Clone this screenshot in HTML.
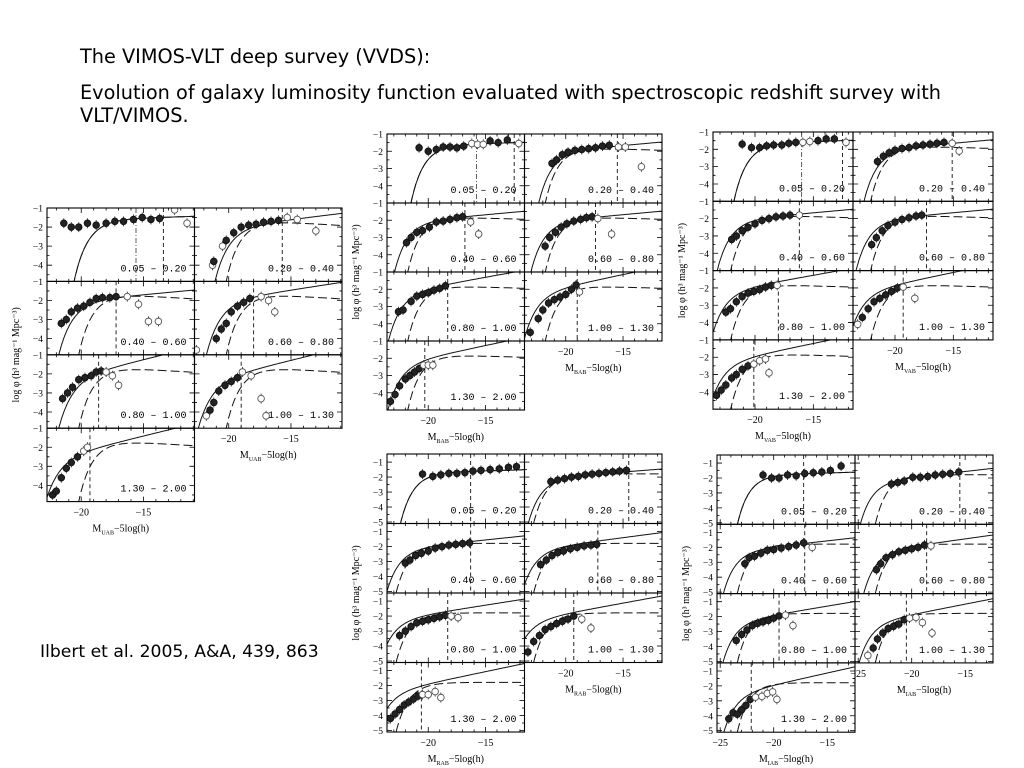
<!DOCTYPE html>
<html><head><meta charset="utf-8">
<style>
html,body{margin:0;padding:0;background:#fff;width:1024px;height:768px;overflow:hidden}
.t{position:absolute;font-family:"DejaVu Sans","Liberation Sans",sans-serif;color:#000;white-space:nowrap}
svg{position:absolute;left:0;top:0}
</style></head>
<body>
<div class="t" style="left:80px;top:45px;font-size:19.3px">The VIMOS-VLT deep survey (VVDS):</div>
<div class="t" style="left:80px;top:81px;font-size:19.3px;line-height:23px">Evolution of galaxy luminosity function evaluated with spectroscopic redshift survey with<br>VLT/VIMOS.</div>
<div class="t" style="left:40px;top:642px;font-size:17.2px">Ilbert et al. 2005, A&amp;A, 439, 863</div>
<svg id="chart" width="1024" height="768"></svg>
<script>
const bins = ["0.05 \u2013 0.20","0.20 \u2013 0.40","0.40 \u2013 0.60","0.60 \u2013 0.80","0.80 \u2013 1.00","1.00 \u2013 1.30","1.30 \u2013 2.00"];

// U band
const uSolid = [[-18.4,-1.55,-1.05],[-19.1,-1.9,-1.2],[-19.8,-1.95,-1.15],[-19.8,-1.9,-1.25],[-19.9,-2.0,-1.4],[-20.6,-2.15,-1.4],[-21.1,-2.35,-1.4]];
const uDashed = [[-18.4,-1.55,-1.05],[-18.0,-1.6,-0.9],[-18.0,-1.6,-0.9],[-18.0,-1.6,-0.9],[-18.0,-1.6,-0.9],[-18.0,-1.6,-0.9],[-18.0,-1.6,-0.9]];
const uVline = [-13.4,-15.7,-17.2,-18.0,-18.6,-19.0,-19.3];
const uPoints = [
 [[-21.4,-1.8,0],[-20.8,-2,0],[-20.2,-2,0],[-19.5,-1.8,0],[-18.8,-1.9,0],[-18,-1.8,0],[-17.3,-1.7,0],[-16.6,-1.7,0],[-15.8,-1.6,0],[-15.1,-1.5,0],[-14.4,-1.6,0],[-13.7,-1.55,0],[-12.5,-1.1,1],[-11.5,-1.8,1]],
 [[-21.3,-4,1],[-21.2,-3.8,0],[-20.5,-3,1],[-20.2,-2.7,0],[-19.6,-2.3,0],[-19,-2,0],[-18.4,-1.9,0],[-17.8,-1.85,0],[-17.2,-1.75,0],[-16.6,-1.7,0],[-16,-1.65,0],[-15.3,-1.5,1],[-14.5,-1.6,1],[-13,-2.2,1]],
 [[-21.6,-3.2,0],[-21.2,-3,0],[-20.8,-2.6,0],[-20.3,-2.4,0],[-19.8,-2.3,0],[-19.3,-2.1,0],[-18.8,-1.9,0],[-18.3,-1.85,0],[-17.7,-1.85,0],[-17.2,-1.8,0],[-16.3,-1.8,1],[-15.4,-2.2,1],[-14.6,-3.1,1],[-13.8,-3.1,1]],
 [[-22.6,-4.6,1],[-21,-4,0],[-20.6,-3.5,0],[-20.2,-3.2,0],[-19.8,-2.6,0],[-19.3,-2.3,0],[-18.8,-2.1,0],[-18.3,-1.9,0],[-17.4,-1.8,1],[-16.8,-2,1],[-16.3,-2.6,1]],
 [[-21.5,-3.3,0],[-21.1,-3,0],[-20.7,-2.7,0],[-20.2,-2.3,0],[-19.7,-2.2,0],[-19.2,-2.1,0],[-18.8,-1.9,0],[-18.4,-1.85,0],[-18,-1.9,1],[-17.5,-2.1,1],[-17,-2.6,1]],
 [[-21.8,-4.2,1],[-21.5,-3.9,0],[-21.2,-3.5,0],[-20.8,-2.9,0],[-20.3,-2.6,0],[-19.8,-2.4,0],[-19.3,-2.2,0],[-18.9,-1.9,1],[-18.2,-2.1,1],[-17.4,-3.3,1],[-17,-4.2,1]],
 [[-22.3,-4.5,0],[-22,-4.3,0],[-21.6,-3.6,0],[-21.2,-3.1,0],[-20.8,-2.8,0],[-20.3,-2.5,0],[-19.8,-2.2,1],[-19.5,-2,1]]
];

// B band
const bSolid = [[-19.3,-1.6,-1.05],[-20.3,-1.95,-1.15],[-20.9,-2.0,-1.15],[-21.0,-2.0,-1.15],[-21.5,-2.05,-1.3],[-21.7,-2.05,-1.35],[-21.6,-2.15,-1.35]];
const bDashed = [[-19.3,-1.6,-1.05],[-19.6,-1.75,-0.95],[-19.6,-1.75,-0.95],[-19.6,-1.75,-0.95],[-19.6,-1.75,-0.95],[-19.6,-1.75,-0.95],[-19.6,-1.75,-0.95]];
const bVline = [-12.5,-15.5,-16.8,-17.4,-18.3,-19.0,-20.3];
const bPoints = [
 [[-20.8,-1.8,0],[-20,-2,0],[-19.3,-1.9,0],[-18.7,-1.75,0],[-18.1,-1.75,0],[-17.5,-1.8,0],[-16.9,-1.7,0],[-16.2,-1.55,1],[-15.7,-1.6,1],[-15.2,-1.6,1],[-14.6,-1.4,0],[-13.9,-1.5,0],[-13.1,-1.35,0],[-12.1,-1.55,1]],
 [[-21.2,-2.7,0],[-20.8,-2.5,0],[-20.3,-2.2,0],[-19.8,-2.05,0],[-19.2,-1.95,0],[-18.6,-1.9,0],[-18,-1.85,0],[-17.4,-1.8,0],[-16.8,-1.7,0],[-16.2,-1.65,0],[-15.4,-1.75,1],[-14.8,-1.75,1],[-13.4,-2.9,1]],
 [[-21.9,-3.3,0],[-21.5,-3,0],[-21,-2.7,0],[-20.5,-2.6,0],[-19.9,-2.4,0],[-19.3,-2.1,0],[-18.7,-2.05,0],[-18.1,-1.95,0],[-17.5,-1.85,0],[-17,-1.8,0],[-16.3,-2.1,1],[-15.6,-2.8,1]],
 [[-21.8,-3.5,0],[-21.4,-3,0],[-20.9,-2.7,0],[-20.4,-2.4,0],[-19.9,-2.2,0],[-19.3,-2.05,0],[-18.7,-1.95,0],[-18.2,-1.85,0],[-17.7,-1.8,0],[-17.2,-1.9,1],[-16,-2.8,1]],
 [[-22.6,-3.3,0],[-22.2,-3.2,0],[-21.5,-2.7,0],[-21,-2.4,0],[-20.5,-2.3,0],[-20,-2.2,0],[-19.5,-2.05,0],[-19,-1.95,0],[-18.5,-1.8,0]],
 [[-23.1,-4.5,0],[-22.4,-3.7,0],[-22,-3.2,0],[-21.5,-2.8,0],[-21,-2.6,0],[-20.5,-2.45,0],[-20,-2.3,0],[-19.5,-2,0],[-19.1,-1.75,0],[-18.8,-2.15,1]],
 [[-23.3,-4.5,0],[-22.9,-4.1,0],[-22.5,-3.6,0],[-22,-3.2,0],[-21.6,-3,0],[-21.2,-2.8,0],[-20.8,-2.6,0],[-20.4,-2.4,1],[-20,-2.4,1],[-19.6,-2.4,1]]
];

// V band
const vSolid = [[-19.6,-1.6,-1.05],[-20.6,-1.95,-1.15],[-21.2,-2.0,-1.15],[-21.3,-2.0,-1.15],[-21.8,-2.05,-1.3],[-22.0,-2.05,-1.35],[-22.0,-2.15,-1.35]];
const vDashed = [[-19.6,-1.6,-1.05],[-19.9,-1.75,-0.95],[-19.9,-1.75,-0.95],[-19.9,-1.75,-0.95],[-19.9,-1.75,-0.95],[-19.9,-1.75,-0.95],[-19.9,-1.75,-0.95]];
const vVline = [-12.5,-15.1,-16.2,-17.3,-18.0,-19.3,-20.1];
const vPoints = [
 [[-21.1,-1.7,0],[-20.3,-1.9,0],[-19.6,-1.9,0],[-19,-1.8,0],[-18.4,-1.75,0],[-17.7,-1.75,0],[-17.1,-1.65,0],[-16.5,-1.6,0],[-15.9,-1.6,1],[-15.3,-1.55,1],[-14.6,-1.5,0],[-13.9,-1.4,0],[-13.2,-1.4,0],[-12.2,-1.6,1]],
 [[-21.5,-2.7,0],[-21,-2.4,0],[-20.5,-2.2,0],[-20,-2.05,0],[-19.4,-1.95,0],[-18.8,-1.9,0],[-18.2,-1.8,0],[-17.6,-1.75,0],[-17,-1.7,0],[-16.4,-1.65,0],[-15.8,-1.6,0],[-15.1,-1.65,1],[-14.5,-2.1,1]],
 [[-22,-3.2,0],[-21.6,-3,0],[-21.1,-2.7,0],[-20.6,-2.5,0],[-20,-2.3,0],[-19.4,-2.1,0],[-18.8,-2,0],[-18.2,-1.9,0],[-17.6,-1.85,0],[-17,-1.8,0],[-16.2,-1.8,1]],
 [[-22,-3.5,0],[-21.6,-3.1,0],[-21.1,-2.7,0],[-20.6,-2.4,0],[-20,-2.2,0],[-19.4,-2.05,0],[-18.8,-1.95,0],[-18.2,-1.85,0],[-17.7,-1.8,0]],
 [[-22.5,-3.4,0],[-22.1,-3.2,0],[-21.6,-2.8,0],[-21.1,-2.5,0],[-20.6,-2.3,0],[-20.1,-2.2,0],[-19.6,-2.1,0],[-19.1,-1.95,0],[-18.6,-1.85,0],[-18.1,-1.85,1]],
 [[-23.2,-4.1,1],[-22.8,-3.7,0],[-22.3,-3.2,0],[-21.8,-2.8,0],[-21.3,-2.6,0],[-20.8,-2.4,0],[-20.3,-2.2,0],[-19.8,-2,0],[-19.3,-1.95,1],[-18.3,-2.6,1]],
 [[-23.3,-4.2,0],[-22.9,-3.9,0],[-22.5,-3.6,0],[-22,-3.2,0],[-21.6,-3,0],[-21.1,-2.7,0],[-20.6,-2.5,0],[-20.1,-2.4,1],[-19.6,-2.2,1],[-19.1,-2.1,1],[-18.8,-2.9,1]]
];

// R band
const rSolid = [[-20.2,-1.65,-1.05],[-21.2,-2.0,-1.15],[-21.6,-2.05,-1.2],[-21.8,-2.05,-1.25],[-22.2,-2.1,-1.3],[-22.5,-2.15,-1.35],[-22.6,-2.25,-1.4]];
const rDashed = [[-20.2,-1.65,-1.05],[-20.6,-1.75,-1.0],[-20.6,-1.75,-1.0],[-20.6,-1.75,-1.0],[-20.6,-1.75,-1.0],[-20.6,-1.75,-1.0],[-20.6,-1.75,-1.0]];
const rVline = [-16.3,-14.5,-16.3,-17.2,-18.3,-19.3,-20.6];
const rPoints = [
 [[-20.5,-1.8,0],[-19.6,-1.95,0],[-18.9,-1.85,0],[-18.2,-1.75,0],[-17.5,-1.75,0],[-16.8,-1.7,0],[-16.1,-1.6,0],[-15.4,-1.55,0],[-14.6,-1.5,0],[-13.8,-1.45,0],[-13,-1.35,0],[-12.3,-1.3,0]],
 [[-21.3,-2.3,0],[-20.7,-2.2,0],[-20.1,-2.1,0],[-19.5,-2,0],[-18.9,-1.95,0],[-18.3,-1.85,0],[-17.7,-1.8,0],[-17.1,-1.75,0],[-16.5,-1.7,0],[-15.9,-1.65,0],[-15.3,-1.6,0],[-14.7,-1.55,0]],
 [[-22,-3.1,0],[-21.6,-2.9,0],[-21.1,-2.6,0],[-20.6,-2.45,0],[-20,-2.3,0],[-19.4,-2.1,0],[-18.8,-2,0],[-18.2,-1.9,0],[-17.6,-1.85,0],[-17,-1.8,0],[-16.4,-1.75,0]],
 [[-22.2,-3.2,0],[-21.7,-2.9,0],[-21.2,-2.6,0],[-20.7,-2.4,0],[-20.2,-2.3,0],[-19.6,-2.15,0],[-19,-2.05,0],[-18.4,-1.95,0],[-17.8,-1.9,0],[-17.3,-1.85,0]],
 [[-22.5,-3.3,0],[-22,-3,0],[-21.5,-2.7,0],[-21,-2.45,0],[-20.5,-2.35,0],[-20,-2.25,0],[-19.5,-2.15,0],[-19,-2.05,0],[-18.5,-1.95,0],[-18,-2,1],[-17.4,-2.1,1]],
 [[-23.3,-4.4,0],[-22.8,-3.7,0],[-22.3,-3.3,0],[-21.8,-2.9,0],[-21.3,-2.7,0],[-20.8,-2.5,0],[-20.3,-2.35,0],[-19.8,-2.2,0],[-19.3,-2,0],[-18.6,-2.2,1],[-17.8,-2.8,1]],
 [[-23.3,-4.2,0],[-22.9,-3.9,0],[-22.5,-3.6,0],[-22.1,-3.3,0],[-21.7,-3.1,0],[-21.3,-2.9,0],[-20.9,-2.7,0],[-20.5,-2.6,1],[-20,-2.6,1],[-19.4,-2.4,1],[-18.9,-2.8,1]]
];

// I band
const iSolid = [[-21.2,-1.75,-1.05],[-22.8,-2.15,-1.2],[-22.7,-2.15,-1.2],[-22.5,-2.15,-1.25],[-22.8,-2.2,-1.3],[-23.0,-2.25,-1.35],[-22.8,-2.35,-1.4]];
const iDashed = [[-21.2,-1.75,-1.05],[-21.2,-1.75,-1.0],[-21.2,-1.75,-1.0],[-21.2,-1.75,-1.0],[-21.2,-1.75,-1.0],[-21.2,-1.75,-1.0],[-21.2,-1.75,-1.0]];
const iVline = [-17.2,-15.5,-17.1,-18.6,-19.5,-20.5,-22.1];
const iPoints = [
 [[-21,-1.8,0],[-20.2,-2,0],[-19.5,-2,0],[-18.7,-1.8,0],[-17.9,-1.85,0],[-17.1,-1.7,0],[-16.3,-1.65,0],[-15.5,-1.6,0],[-14.7,-1.5,0],[-13.7,-1.2,0]],
 [[-21.9,-2.4,0],[-21.3,-2.3,0],[-20.7,-2.2,0],[-19.9,-1.95,0],[-19.2,-1.95,0],[-18.5,-1.9,0],[-17.8,-1.8,0],[-17.1,-1.75,0],[-16.4,-1.7,0],[-15.6,-1.6,0]],
 [[-22.7,-3.1,0],[-22.3,-2.7,0],[-21.8,-2.6,0],[-21.2,-2.4,0],[-20.6,-2.2,0],[-20,-2.15,0],[-19.3,-2.05,0],[-18.6,-1.95,0],[-17.9,-1.85,0],[-17.2,-1.7,0],[-16.4,-2,1]],
 [[-23.3,-3.5,0],[-22.9,-3.1,0],[-22.4,-2.7,0],[-21.8,-2.5,0],[-21.2,-2.3,0],[-20.6,-2.2,0],[-20,-2.1,0],[-19.4,-2,0],[-18.8,-1.85,0],[-18.2,-1.9,1]],
 [[-23.5,-3.6,0],[-23,-3.2,0],[-22.5,-2.9,0],[-22,-2.6,0],[-21.5,-2.45,0],[-21,-2.35,0],[-20.5,-2.25,0],[-20,-2.1,0],[-19.5,-1.95,0],[-18.9,-1.9,1],[-18.2,-2.6,1]],
 [[-24.1,-4.6,1],[-23.6,-4.1,0],[-23.2,-3.5,0],[-22.7,-3.1,0],[-22.2,-2.8,0],[-21.7,-2.65,0],[-21.2,-2.5,0],[-20.7,-2.2,0],[-20.2,-2.1,1],[-19.6,-2.05,1],[-19,-2.4,1],[-18.1,-3.1,1]],
 [[-24.2,-4.2,0],[-23.8,-3.8,0],[-23.4,-3.9,0],[-23,-3.6,0],[-22.6,-3.3,0],[-22.2,-2.9,0],[-21.7,-2.75,1],[-21.1,-2.7,1],[-20.6,-2.5,1],[-20.1,-2.4,1],[-19.7,-2.9,1]]
];

const uXTicks=[-20,-15], bXTicks=[-20,-15], vXTicks=[-20,-15], rXTicks=[-20,-15], iXTicks=[-25,-20,-15];
const uYTicks=[-1,-2,-3,-4], bYTicks=[-1,-2,-3,-4], vYTicks=[-1,-2,-3,-4], rYTicks=[-1,-2,-3,-4,-5], iYTicks=[-1,-2,-3,-4,-5];

const groups = [
 {id:'u',band:'U',x0:47,pw:147.5,y0:208,ph:73.4,xr:[-22.75,-10.9],yr:[-1,-4.85],solid:uSolid,dashed:uDashed,vl:uVline,pts:uPoints,xt:uXTicks,yt:uYTicks,dd:true},
 {id:'b',band:'B',x0:387,pw:137.5,y0:134,ph:69,xr:[-23.6,-11.6],yr:[-1,-5],solid:bSolid,dashed:bDashed,vl:bVline,pts:bPoints,xt:bXTicks,yt:bYTicks,dd:true},
 {id:'v',band:'V',x0:713,pw:140,y0:132,ph:69.3,xr:[-23.6,-11.6],yr:[-1,-5],solid:vSolid,dashed:vDashed,vl:vVline,pts:vPoints,xt:vXTicks,yt:vYTicks,dd:true},
 {id:'r',band:'R',x0:387,pw:137.5,y0:454,ph:69.5,xr:[-23.6,-11.6],yr:[-0.46,-5.1],solid:rSolid,dashed:rDashed,vl:rVline,pts:rPoints,xt:rXTicks,yt:rYTicks,dd:false},
 {id:'i',band:'I',x0:717,pw:138,y0:455,ph:69.3,xr:[-25.3,-12.4],yr:[-0.46,-5.1],solid:iSolid,dashed:iDashed,vl:iVline,pts:iPoints,xt:iXTicks,yt:iYTicks,dd:false}
];

const NS='http://www.w3.org/2000/svg';
const svg=document.getElementById('chart');
function mk(tag,attrs,parent){const e=document.createElementNS(NS,tag);for(const k in attrs)e.setAttribute(k,attrs[k]);(parent||svg).appendChild(e);return e;}
function schechter(M,p){const d=0.4*(p[0]-M);return Math.log10(0.4*Math.LN10)+p[1]+(p[2]+1)*d-Math.pow(10,d)/Math.LN10;}

groups.forEach(g=>{
 const gEl=mk('g',{});
 
 
 for(let i=0;i<7;i++){
  const col=i%2,row=Math.floor(i/2);
  const px=g.x0+col*g.pw,py=g.y0+row*g.ph,pw=g.pw,ph=g.ph;
  const xs=M=>px+(M-g.xr[0])/(g.xr[1]-g.xr[0])*pw;
  const ys=v=>py+(v-g.yr[0])/(g.yr[1]-g.yr[0])*ph;
  const pg=mk('g',{},gEl);
  
  
  const cid='clip-'+g.id+i;
  const cp=mk('clipPath',{id:cid},pg);
  mk('rect',{x:px,y:py,width:pw,height:ph},cp);
  const inner=mk('g',{'clip-path':'url(#'+cid+')'},pg);
  for(let m=Math.ceil(g.xr[0]);m<=g.xr[1];m++){
   const L=(m%5===0)?5:2.5,x=xs(m);
   mk('line',{x1:x,y1:py+ph,x2:x,y2:py+ph-L,stroke:'#000','stroke-width':0.8},inner);
   mk('line',{x1:x,y1:py,x2:x,y2:py+L,stroke:'#000','stroke-width':0.8},inner);
  }
  for(let v=-1;v>=-5.5;v-=0.5){
   const L=(v%1===0)?5:2.5,y=ys(v);
   mk('line',{x1:px,y1:y,x2:px+L,y2:y,stroke:'#000','stroke-width':0.8},inner);
   mk('line',{x1:px+pw,y1:y,x2:px+pw-L,y2:y,stroke:'#000','stroke-width':0.8},inner);
  }
  [[g.solid[i],'none'],[g.dashed[i],'9,4']].forEach(([p,da],k)=>{
   let d='';
   for(let M=g.xr[0];M<=g.xr[1]+0.05;M+=0.05){
    const v=schechter(M,p);if(v<g.yr[1]-1)continue;
    d+=(d?'L':'M')+xs(M).toFixed(1)+','+ys(v).toFixed(1);
   }
   const c=mk('path',{d:d,fill:'none',stroke:'#111','stroke-width':1,'stroke-dasharray':da},inner);
   
   
  });
  const vx=xs(g.vl[i]);
  const vline=mk('line',{x1:vx,y1:py,x2:vx,y2:py+ph,stroke:'#111','stroke-width':0.9,'stroke-dasharray':'4,3'},inner);
  
  
  if(i===0&&g.dd){
   const vx2=xs(g.id==='u'?-15.6:(g.id==='b'?-15.8:-16.0));
   const l2=mk('line',{x1:vx2,y1:py,x2:vx2,y2:py+ph,stroke:'#333','stroke-width':0.8,'stroke-dasharray':'5,2,1,2'},inner);
   
   
  }
  g.pts[i].forEach(pt=>{
   const cx=xs(pt[0]),cy=ys(pt[1]);
   mk('line',{x1:cx,y1:cy-5,x2:cx,y2:cy+5,stroke:'#222','stroke-width':0.8},inner);
   const c=mk('circle',{cx:cx,cy:cy,r:3.3,fill:pt[2]?'#fff':'#222',stroke:pt[2]?'#555':'#111','stroke-width':0.9},inner);
   
   
  });
  const fr=mk('rect',{x:px,y:py,width:pw,height:ph,fill:'none',stroke:'#000','stroke-width':1.1},pg);
  
  
  const bl=mk('text',{x:px+pw-8,y:py+ph-10,'text-anchor':'end','font-family':'Liberation Mono, monospace','font-size':10},pg);
  bl.textContent=bins[i];
  
  
  if(col===0){
   g.yt.forEach(v=>{
    if(v<g.yr[1]||v>g.yr[0]+0.01)return;
    const t=mk('text',{x:px-4,y:ys(v)+3.5,'text-anchor':'end','font-family':'Liberation Serif, serif','font-size':9.5},pg);
    t.textContent='\u2212'+Math.abs(v);
    
    
   });
  }
  if(i>=5){
   g.xt.forEach(m=>{
    const x=xs(m);if(x<px+3||x>px+pw)return;
    const t=mk('text',{x:x,y:py+ph+14,'text-anchor':'middle','font-family':'Liberation Serif, serif','font-size':10},pg);
    t.textContent='\u2212'+Math.abs(m);
    
    
   });
   const xt=mk('text',{x:px+pw/2,y:py+ph+30,'text-anchor':'middle','font-family':'Liberation Serif, serif','font-size':10},pg);
   xt.innerHTML='M<tspan font-size="6" dy="3">'+g.band+'AB</tspan><tspan dy="-3">\u22125log(h)</tspan>';
   
   
  }
 }
 const cy=g.y0+2*g.ph;
 const yt=mk('text',{x:g.x0-28,y:cy,'text-anchor':'middle','font-family':'Liberation Serif, serif','font-size':10,transform:'rotate(-90 '+(g.x0-28)+' '+cy+')'},gEl);
 yt.textContent='log \u03c6  (h\u00b3 mag\u207b\u00b9 Mpc\u207b\u00b3)';
 
 
});
</script>
</body></html>
